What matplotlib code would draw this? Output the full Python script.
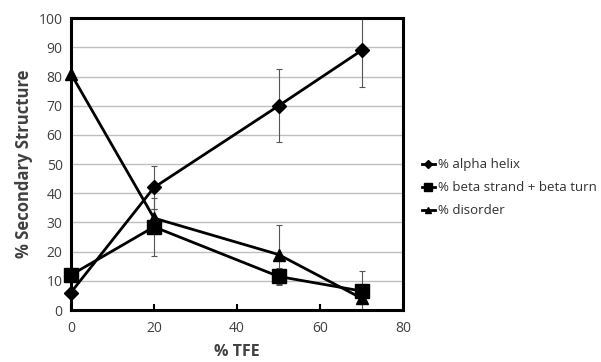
import matplotlib
matplotlib.use("Agg")
import matplotlib.pyplot as plt
import numpy as np

plt.rcParams['font.family'] = ['Open Sans', 'DejaVu Sans']

tfe = [0, 20, 50, 70]
alpha = [6, 42, 70, 89]
alpha_err = [0, 7.5, 12.5, 12.5]
beta = [12, 28.5, 11.5, 6.5]
beta_err = [0, 10, 3, 7]
disorder = [81, 31.5, 19, 4]
disorder_err = [0, 3, 10, 2]

labels = ['% alpha helix', '% beta strand + beta turn', '% disorder']
xticks = [0, 20, 40, 60, 80]
yticks = list(range(0, 101, 10))

fig = plt.figure(figsize=(6.01, 3.62), dpi=100)
ax = fig.add_axes([0.118, 0.1436, 0.553, 0.806])

for vals, errs, mk, ms, lab in [(alpha, alpha_err, 'D', 7, labels[0]),
                                (beta, beta_err, 's', 10, labels[1]),
                                (disorder, disorder_err, '^', 9, labels[2])]:
    ax.errorbar(tfe, vals, yerr=errs, fmt='none', ecolor='#555555', elinewidth=0.8,
                capsize=2.5, capthick=0.8, zorder=2)
    ax.plot(tfe, vals, color='black', lw=2, marker=mk, ms=ms, label=lab, zorder=3,
            clip_on=False)

ax.set_xlim(0, 80)
ax.set_ylim(0, 100)
ax.set_xticks(xticks)
ax.set_yticks(yticks)
ax.yaxis.grid(True, color='#bfbfbf', lw=1)
ax.set_axisbelow(True)
for s in ax.spines.values():
    s.set_linewidth(2.2)
    s.set_color('black')
ax.tick_params(axis='x', direction='in', length=4, width=1.5, labelsize=10,
               labelcolor='#404040', pad=8)
ax.tick_params(axis='y', direction='in', length=0, labelsize=10,
               labelcolor='#404040', pad=6)
ax.set_xlabel('% TFE', fontsize=11.5, fontweight='bold', color='#404040', labelpad=6)
ax.set_ylabel('% Secondary Structure', fontsize=12, fontweight='bold', color='#404040')

leg = fig.legend(loc='upper left', bbox_to_anchor=(0.693, 0.577), frameon=False,
                 fontsize=9.5, handlelength=1.0, handletextpad=0.2, labelspacing=0.75,
                 markerscale=0.55, borderaxespad=0)
for t in leg.get_texts():
    t.set_color('#303030')

fig.savefig('out.png', dpi=100)
